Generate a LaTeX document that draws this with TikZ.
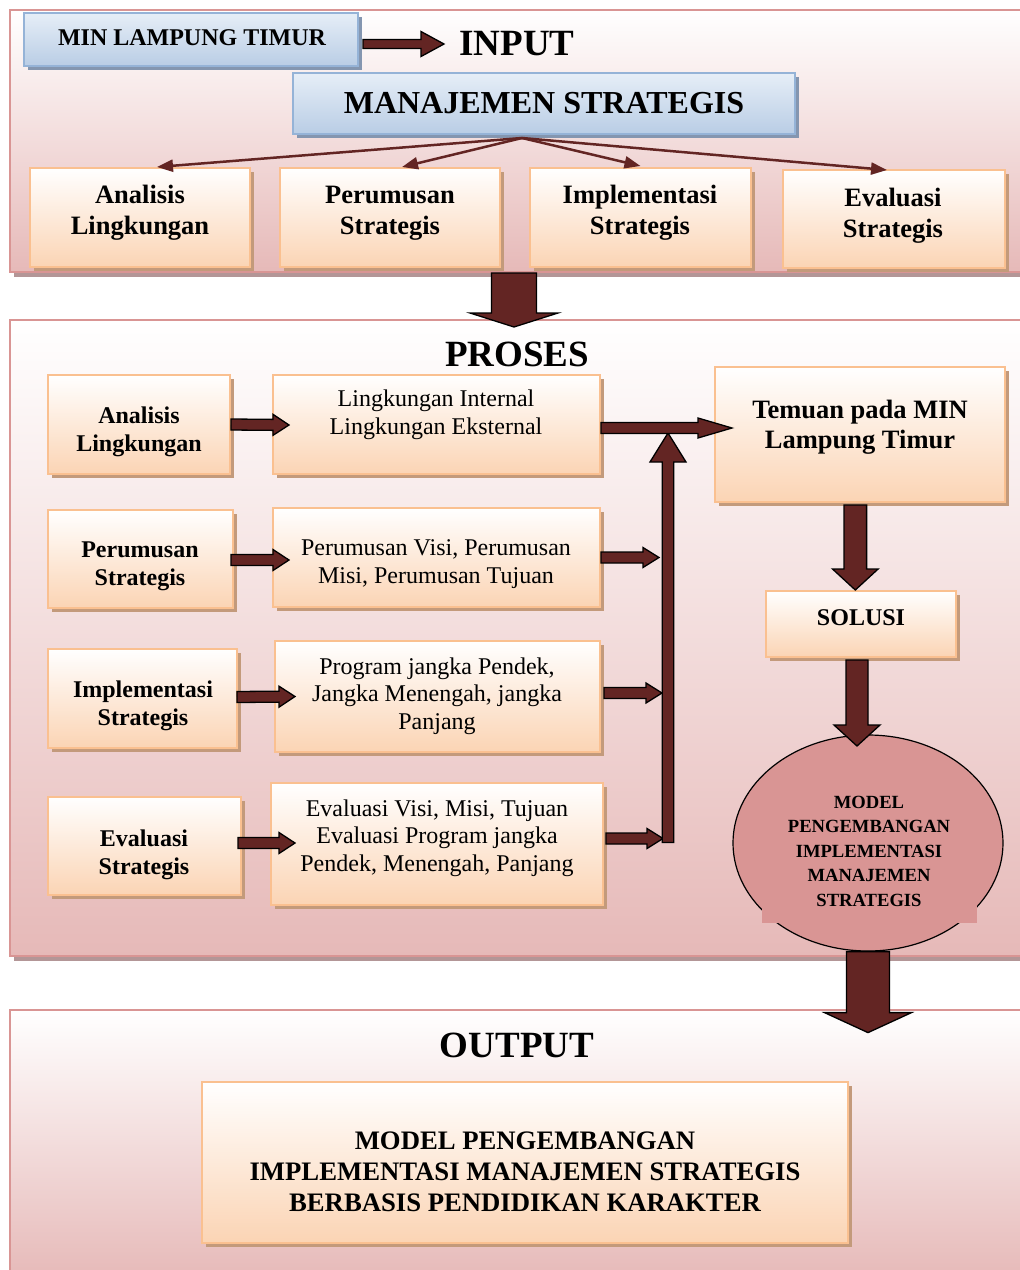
\documentclass[tikz,border=0pt]{standalone}
\usepackage{fontspec}
\setmainfont{Liberation Serif}
\usetikzlibrary{calc,shadows,shapes.geometric,arrows.meta}

\definecolor{arrred}{HTML}{632523}
\definecolor{framepink}{HTML}{D99594}
\definecolor{framebot}{HTML}{E6B9B8}
\definecolor{fshadow}{HTML}{B39697}
\definecolor{oborder}{HTML}{FAC090}
\definecolor{obot}{HTML}{FBD4B4}
\definecolor{oshadow}{HTML}{C39A7B}
\definecolor{bborder}{HTML}{95B3D7}
\definecolor{btop}{HTML}{E6EEF7}
\definecolor{bbot}{HTML}{B9CDE5}
\definecolor{bshadow}{HTML}{8496B0}
\definecolor{ellfill}{HTML}{D99594}

\newcommand\blockarr[5]{%
  \coordinate (baA) at #1;
  \coordinate (baB) at #2;
  \coordinate (baH) at ($(baB)!#5!(baA)$);
  \draw[barrow] ($(baA)!#3!90:(baB)$) -- ($(baH)!#3!90:(baB)$) -- ($(baH)!#4!90:(baB)$) -- (baB)
    -- ($(baH)!#4!-90:(baB)$) -- ($(baH)!#3!-90:(baB)$) -- ($(baA)!#3!-90:(baB)$) -- cycle;
}

\tikzset{
  frame/.style={rectangle, draw=framepink, line width=2pt, top color=white, bottom color=framebot,
    drop shadow={shadow xshift=4pt, shadow yshift=-5pt, fill=fshadow, opacity=1}, inner sep=0pt},
  obox/.style={rectangle, draw=oborder, line width=2pt, top color=white, bottom color=obot,
    drop shadow={shadow xshift=4pt, shadow yshift=-4pt, fill=oshadow, opacity=1}, inner sep=0pt},
  bbox/.style={rectangle, draw=bborder, line width=2pt, top color=btop, bottom color=bbot,
    drop shadow={shadow xshift=4pt, shadow yshift=-4pt, fill=bshadow, opacity=1}, inner sep=0pt},
  barrow/.style={fill=arrred, draw=black, line width=1.3pt, line join=miter},
  thinarr/.style={draw=arrred, line width=2.5pt, -{Triangle[length=16pt,width=12pt]}},
  ttl/.style={inner sep=0pt, font=\fontsize{37}{40}\selectfont\bfseries},
  lbig/.style={inner sep=0pt, align=center, font=\fontsize{26.5}{31}\selectfont\bfseries},
  lmid/.style={inner sep=0pt, align=center, font=\fontsize{24}{28}\selectfont\bfseries},
  lreg/.style={inner sep=0pt, align=center, font=\fontsize{24}{27.7}\selectfont},
}

\begin{document}
\begin{tikzpicture}[x=1pt,y=-1pt]
\useasboundingbox (0,0) rectangle (1020,1270);
\clip (0,0) rectangle (1020,1270);
\fill[white] (0,0) rectangle (1020,1270);

% section frames
\node[frame, minimum width=1020pt, minimum height=262pt] (fin) at (520,141) {};
\node[frame, minimum width=1020pt, minimum height=636pt] (fpro) at (520,638) {};
\node[frame, minimum width=1020pt, minimum height=270pt] (fout) at (520,1145) {};

% INPUT part
\node[bbox, minimum width=334pt, minimum height=53pt] (min) at (191,39.5) {};
\node[lmid] (mint) at (192,38) {MIN LAMPUNG TIMUR};
\node[ttl] (tin) at (517,44) {INPUT};
\node[bbox, minimum width=502pt, minimum height=61pt] (mgmt) at (544,103.5) {};
\node[inner sep=0pt, font=\fontsize{32}{36}\selectfont\bfseries] (mgmtt) at (544,103) {MANAJEMEN STRATEGIS};

\node[obox, minimum width=220pt, minimum height=99pt] (a1) at (140,217.5) {};
\node[obox, minimum width=220pt, minimum height=99pt] (a2) at (390,217.5) {};
\node[obox, minimum width=221pt, minimum height=99pt] (a3) at (640.5,217.5) {};
\node[obox, minimum width=222pt, minimum height=98pt] (a4) at (894,219) {};
\node[lbig] (a1t) at (140,213) {Analisis\\Lingkungan};
\node[lbig] (a2t) at (390,213) {Perumusan\\Strategis};
\node[lbig] (a3t) at (640,213) {Implementasi\\Strategis};
\node[lbig] (a4t) at (893,216) {Evaluasi\\Strategis};

\coordinate (hub) at (522,138);
\draw[thinarr] (hub) -- ($(a1.north)+(17,0)$);
\draw[thinarr] (hub) -- ($(a2.north)+(12,0)$);
\draw[thinarr] (hub) -- ($(a3.north)+(0,-1)$);
\draw[thinarr] (hub) -- ($(a4.north)+(-7,1)$);

% PROSES part
\node[ttl] (tpro) at (517,354) {PROSES};

\node[obox, minimum width=182pt, minimum height=99pt] (b1) at (139,424.5) {};
\node[obox, minimum width=185pt, minimum height=98pt] (b2) at (140.5,559) {};
\node[obox, minimum width=189pt, minimum height=99pt] (b3) at (142.5,698.5) {};
\node[obox, minimum width=193pt, minimum height=98pt] (b4) at (144.5,846) {};
\node[lmid] (b1t) at (139,432) {Analisis\\Lingkungan};
\node[lmid] (b2t) at (140,566) {Perumusan\\Strategis};
\node[lmid] (b3t) at (143,706) {Implementasi\\Strategis};
\node[lmid] (b4t) at (144,855) {Evaluasi\\Strategis};

\node[obox, minimum width=327pt, minimum height=99pt] (c1) at (436.5,424.5) {};
\node[obox, minimum width=327pt, minimum height=99pt] (c2) at (436.5,557.5) {};
\node[obox, minimum width=325pt, minimum height=111pt] (c3) at (437.5,696.5) {};
\node[obox, minimum width=332pt, minimum height=122pt] (c4) at (437,844) {};
\node[lreg] (c1t) at (436,415) {Lingkungan Internal\\Lingkungan Eksternal};
\node[lreg] (c2t) at (436,564) {Perumusan Visi, Perumusan\\Misi, Perumusan Tujuan};
\node[lreg] (c3t) at (437,696) {Program jangka Pendek,\\Jangka Menengah, jangka\\Panjang};
\node[lreg] (c4t) at (437,838) {Evaluasi Visi, Misi, Tujuan\\Evaluasi Program jangka\\Pendek, Menengah, Panjang};

\node[obox, minimum width=290pt, minimum height=135pt] (tem) at (860,434.5) {};
\node[inner sep=0pt, align=center, font=\fontsize{26.5}{30}\selectfont\bfseries] (temt) at (860,427) {Temuan pada MIN\\Lampung Timur};

\node[obox, minimum width=190pt, minimum height=66pt] (sol) at (861,624) {};
\node[lmid] (solt) at (861,618) {SOLUSI};

\node[ellipse, draw=black, line width=1.2pt, fill=ellfill, inner sep=0pt,
      minimum width=270pt, minimum height=216pt] (ell) at (868,843) {};
\fill[ellfill] (762,897) rectangle (977,923);
\node[inner sep=0pt, align=center, font=\fontsize{18.6}{24.5}\selectfont\bfseries] (ellt) at (869,851)
  {MODEL\\PENGEMBANGAN\\IMPLEMENTASI\\MANAJEMEN\\STRATEGIS};

% OUTPUT part
\node[ttl] (tout) at (517,1045) {OUTPUT};
\node[obox, minimum width=646pt, minimum height=161pt] (outb) at (525,1162.5) {};
\node[inner sep=0pt, align=center, font=\fontsize{26.7}{30.8}\selectfont\bfseries] (outt) at (525,1172)
  {MODEL PENGEMBANGAN\\IMPLEMENTASI MANAJEMEN STRATEGIS\\BERBASIS PENDIDIKAN KARAKTER};

% block arrows
\blockarr{($(min.east)+(4,4.5)$)}{($(min.east)+(85,4.5)$)}{4.5pt}{12.5pt}{23pt}
\coordinate (d1) at (514,273);
\coordinate (d2) at (514,327);
\blockarr{(d1)}{(d2)}{22.5pt}{44pt}{14pt}

\blockarr{(b1.east)}{($(c1.west)+(17,0.5)$)}{5.5pt}{10.5pt}{16pt}
\blockarr{($(b2.east)+(-3,1)$)}{($(c2.west)+(17,2.5)$)}{5.5pt}{10.5pt}{16pt}
\blockarr{($(b3.east)+(-1,-1.5)$)}{($(c3.west)+(21,0)$)}{5.5pt}{10.5pt}{16pt}
\blockarr{($(b4.east)+(-4,-3)$)}{($(c4.west)+(25,-1)$)}{5.5pt}{10.5pt}{16pt}

\coordinate (vbot) at (668,842.5);
\coordinate (vtop) at (668,433);
\blockarr{(c2.east)}{(659,557.5)}{5.5pt}{10pt}{16pt}
\blockarr{($(c3.east)+(3,-3.5)$)}{(662,693)}{5.5pt}{10pt}{16pt}
\blockarr{($(c4.east)+(2,-5.5)$)}{(663,838.5)}{5.5pt}{10pt}{16pt}
\blockarr{(vbot)}{(vtop)}{5.7pt}{18pt}{29pt}
\blockarr{($(c1.east)+(0,3.5)$)}{($(tem.west)+(18,-6.5)$)}{5.5pt}{10pt}{34pt}

\blockarr{($(tem.south)+(-4.7,2)$)}{($(tem.south)+(-4.7,87)$)}{11.3pt}{22.8pt}{21pt}
\blockarr{($(sol.south)+(-4,2)$)}{($(sol.south)+(-4,88)$)}{11pt}{23pt}{21pt}
\blockarr{(ell.south)}{($(ell.south)+(0,81)$)}{21.5pt}{43.5pt}{20pt}
\end{tikzpicture}
\end{document}
